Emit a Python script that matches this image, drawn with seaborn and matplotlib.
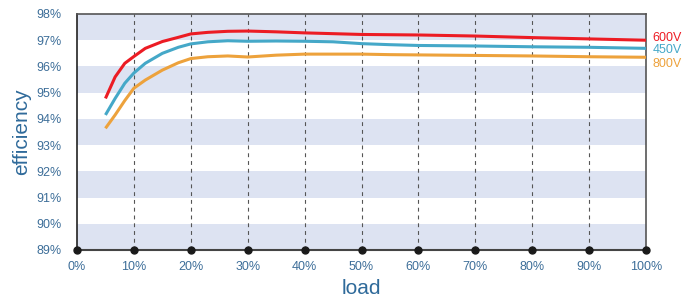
import numpy as np
import pandas as pd
import matplotlib
matplotlib.use("Agg")
import matplotlib.pyplot as plt
import seaborn as sns

# values (load %, efficiency %)
load = [5, 6.7, 8.4, 10, 12, 15, 17.8, 20, 23, 26.5, 30, 35, 40, 45, 50, 55, 60, 70, 80, 90, 100]
eff_600v = [94.78, 95.6, 96.12, 96.38, 96.69, 96.95, 97.11, 97.24, 97.3, 97.34, 97.35,
            97.32, 97.28, 97.25, 97.22, 97.21, 97.2, 97.16, 97.1, 97.05, 97.0]
eff_450v = [94.15, 94.78, 95.36, 95.75, 96.12, 96.5, 96.73, 96.86, 96.94, 96.98, 96.96,
            96.97, 96.96, 96.94, 96.87, 96.83, 96.8, 96.78, 96.75, 96.73, 96.69]
eff_800v = [93.64, 94.15, 94.7, 95.17, 95.48, 95.86, 96.14, 96.3, 96.37, 96.4, 96.36,
            96.43, 96.47, 96.47, 96.47, 96.45, 96.44, 96.42, 96.4, 96.37, 96.35]

series_names = ["600V", "450V", "800V"]
series_colors = ["#ec1c24", "#45a8c8", "#eda23c"]
x_ticks = list(range(0, 101, 10))
y_ticks = list(range(89, 99))

df = pd.DataFrame({
    "load": load * 3,
    "eff": eff_600v + eff_450v + eff_800v,
    "series": [s for s in series_names for _ in load],
})

sns.set_theme(style="white")
plt.rcParams["font.family"] = ["Liberation Sans", "DejaVu Sans"]

fig = plt.figure(figsize=(6.92, 2.98), dpi=100)
ax = fig.add_axes([77 / 692, 48 / 298, 569 / 692, 236 / 298])

# alternating horizontal bands
for lo in range(89, 98, 2):
    ax.axhspan(lo, lo + 1, color="#dde3f2", lw=0, zorder=0)

# dashed vertical grid
for xv in x_ticks[1:-1]:
    ax.axvline(xv, color="#555555", lw=0.8, ls=(0, (3.5, 3.5)), zorder=1)

sns.lineplot(data=df, x="load", y="eff", hue="series", palette=series_colors,
             hue_order=series_names, lw=2.2, ax=ax, legend=False, zorder=3,
             solid_joinstyle="round", solid_capstyle="butt")

ax.set_xlim(0, 100)
ax.set_ylim(89, 98)
ax.set_xticks(x_ticks)
ax.set_xticklabels([f"{v}%" for v in x_ticks])
ax.set_yticks(y_ticks)
ax.set_yticklabels([f"{v}%" for v in y_ticks])

tick_col = "#3d6e99"
ax.tick_params(axis="both", length=0, labelsize=9, colors=tick_col)
ax.tick_params(axis="x", pad=8)
ax.tick_params(axis="y", pad=11)

for side in ["top", "right"]:
    ax.spines[side].set_color("#555555")
    ax.spines[side].set_linewidth(1.2)
ax.spines["left"].set_color("#222222")
ax.spines["left"].set_linewidth(1.2)
ax.spines["bottom"].set_color("#444444")
ax.spines["bottom"].set_linewidth(1.5)

# dots along the bottom axis
ax.plot(x_ticks, [89] * len(x_ticks), "o", color="#1a1a1a", ms=5,
        clip_on=False, zorder=5)

ax.set_xlabel("load", fontsize=15, color="#2f6a9a")
ax.set_ylabel("efficiency", fontsize=15, color="#2f6a9a")
ax.xaxis.set_label_coords(0.5, -0.165)
ax.yaxis.set_label_coords(-0.097, 0.5)
ax.xaxis.label.set_va("center")
ax.yaxis.label.set_va("center")

# series labels at the right end
last_y = [eff_600v[-1] + 0.1, eff_450v[-1] - 0.05, eff_800v[-1] - 0.25]
for name, col, yv in zip(series_names, series_colors, last_y):
    ax.text(101.2, yv, name, color=col, fontsize=9, va="center",
            ha="left", clip_on=False)

fig.savefig("out.png", dpi=100)
